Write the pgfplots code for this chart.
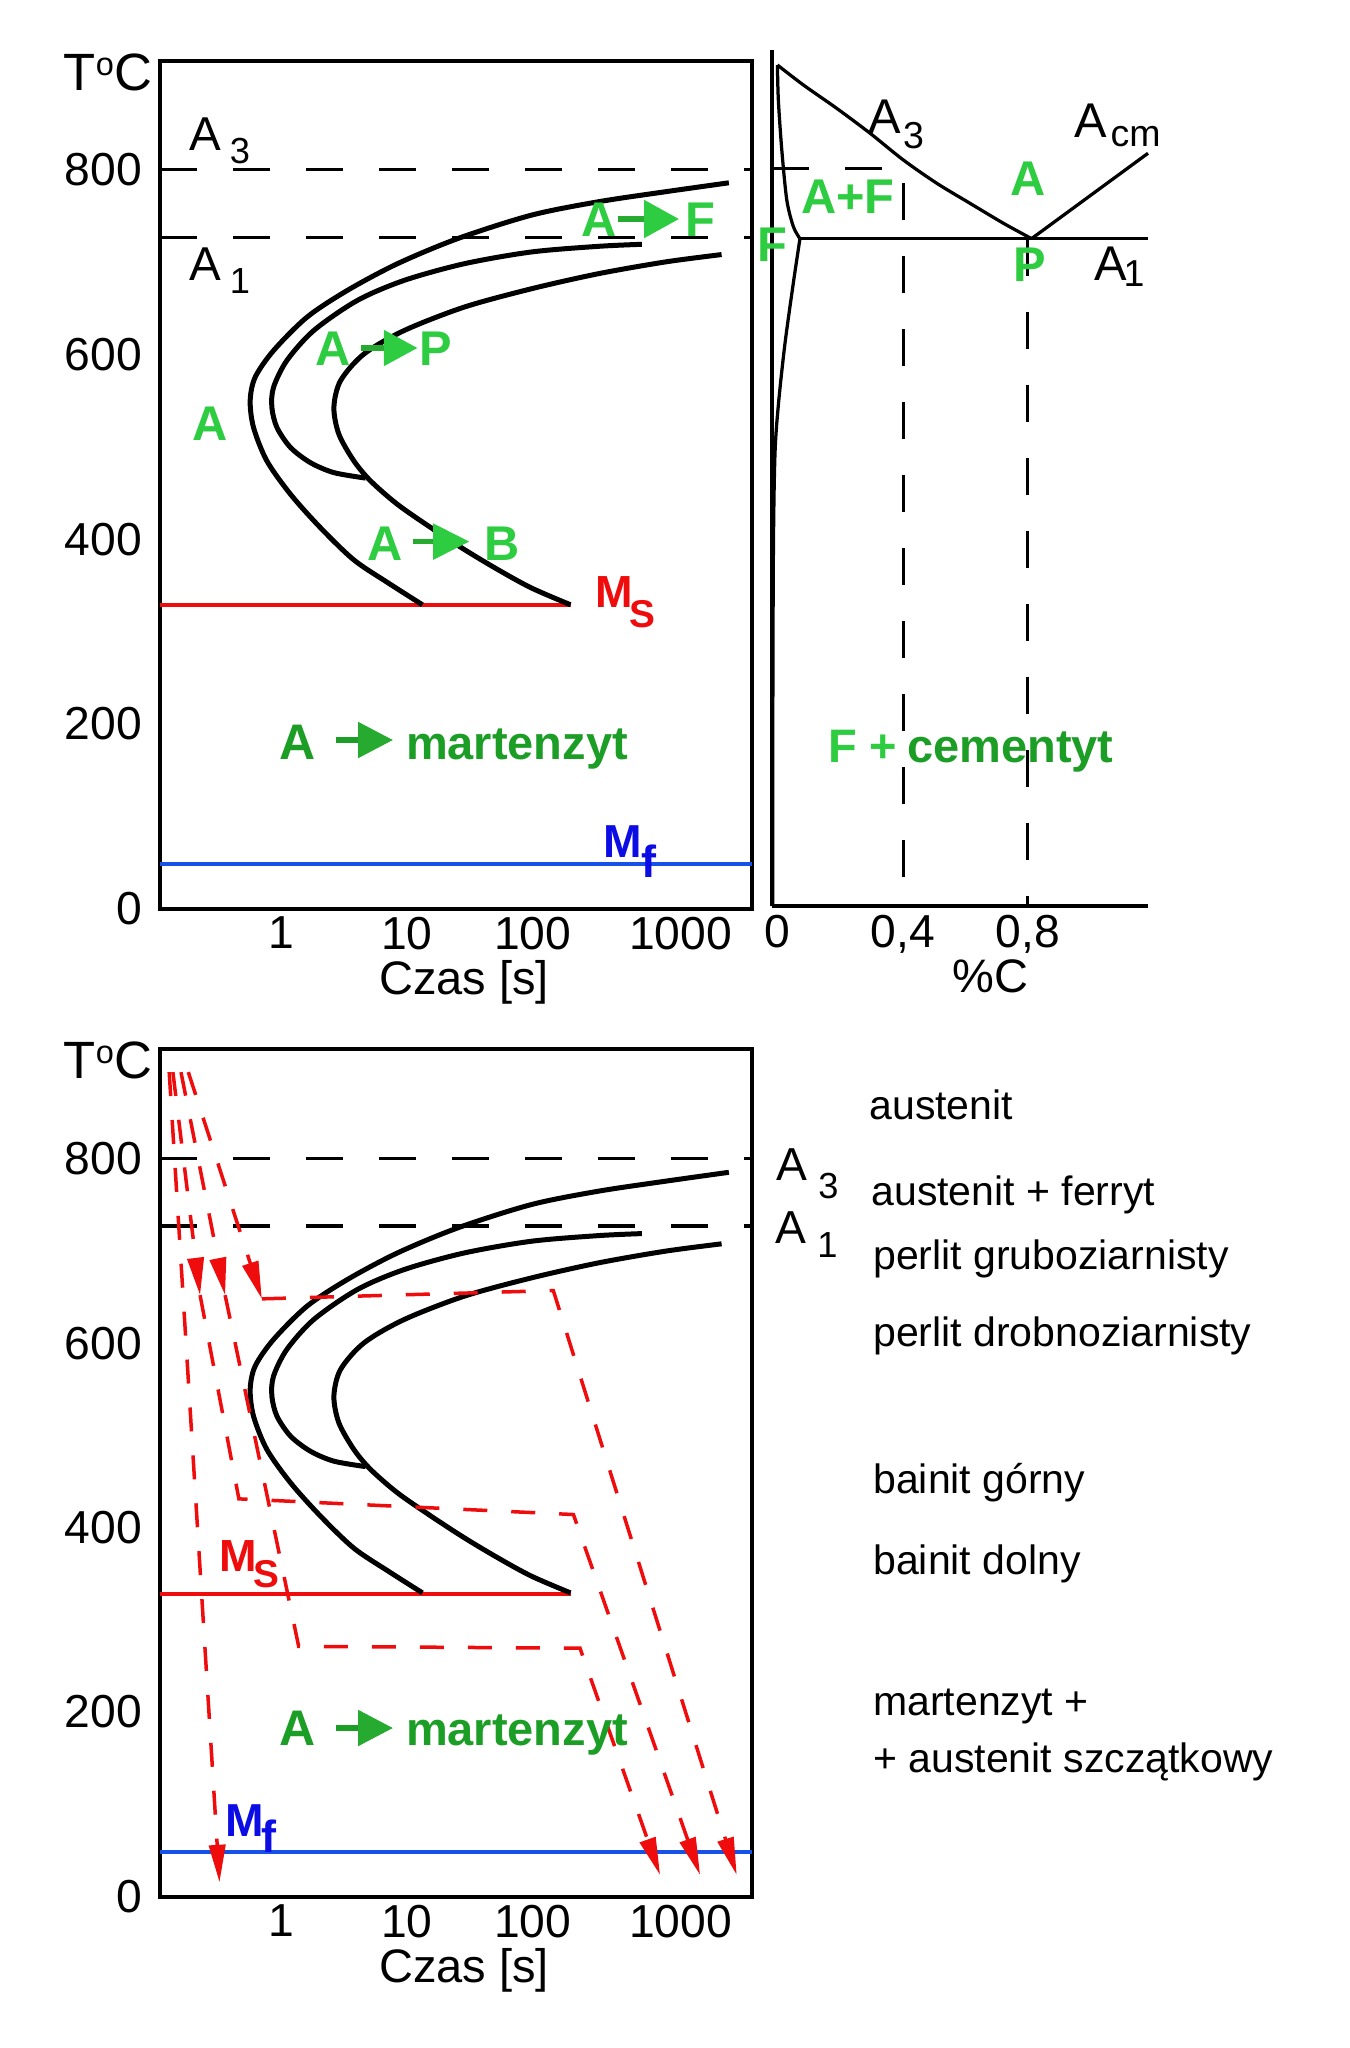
\documentclass[border=0pt]{standalone}
\usepackage{fontspec}
\setmainfont{Liberation Sans}
\usepackage{pgfplots}
\pgfplotsset{compat=1.18}
\usetikzlibrary{arrows.meta}
\newcommand\fs[1]{\fontsize{#1}{#1}\selectfont}
\definecolor{gbright}{RGB}{46,204,64}
\definecolor{gshaft}{RGB}{38,170,48}
\definecolor{gdark}{RGB}{28,158,38}
\definecolor{rred}{RGB}{238,12,12}
\definecolor{lblue}{RGB}{22,82,232}
\definecolor{mblue}{RGB}{12,12,228}

\pgfplotstableread{
t T
3631 785.3
1132 775.6
333 764.8
97.7 750.3
25.4 725.0
8.41 697.8
3.36 668.9
1.61 640.1
0.871 603.9
0.622 575.0
0.568 549.7
0.604 520.7
0.771 484.6
1.19 448.4
2.06 412.2
3.79 377.5
7.11 352.6
13.3 329
}\startcurve
\pgfplotstableread{
t T
738 718.8
333 716.6
97.7 710.5
28.6 697.8
9.53 679.8
4.04 658.1
1.82 625.6
1.11 593.0
0.871 564.1
0.845 542.4
0.927 520.7
1.19 499.0
1.71 482.7
2.63 471.9
4.7 466
}\midcurve
\pgfplotstableread{
t T
3177 707.7
1132 699.7
333 687.0
97.7 670.7
28.6 650.9
9.53 625.6
4.56 600.2
2.97 571.3
2.63 542.4
2.88 513.5
3.79 484.6
5.15 462.9
8.41 437.6
15.6 412.2
28.6 388.8
52.8 367.1
97.7 347.2
200 329
}\endcurve

\pgfplotsset{
  cc/.style={black, line width=2pt, smooth},
  thr/.style={black, line width=1.25pt, dash pattern=on 14.8pt off 14.4pt},
  rpath/.style={rred, line width=1.4pt, dash pattern=on 9.6pt off 9.6pt, -{Triangle[length=15pt,width=6.5pt]}},
  pd/.style={black, line width=1.3pt},
}

\begin{document}
\begin{tikzpicture}[x=0.4pt,y=-0.4pt]
\useasboundingbox (0,0) rectangle (1349,2048);

% ---------------- top-left: TTT diagram
\begin{axis}[at={(64pt,-363.6pt)}, anchor=south west, scale only axis,
    width=236.8pt, height=339.2pt,
    xmode=log, xmin=0.109, xmax=5546, ymin=0, ymax=917,
    xtick={1,10,100,1500}, xticklabels={1,10,100,1000},
    xminorticks=false, yminorticks=false,
    ytick={0,200,400,600,800},
    major tick length=0pt, tick style={draw=none},
    ticklabel style={font=\fs{18.5}, inner sep=0pt},
    yticklabel style={anchor=east, xshift=-7pt},
    xticklabel style={anchor=north, yshift=-3pt},
    /pgf/number format/assume math mode=true,
    axis line style={line width=1.3pt},
    clip=false,
    xlabel={Czas [s]},
    xlabel style={at={(axis description cs:0.5135,-0.087)}, anchor=center, inner sep=0pt, font=\fs{18.8}},
    ylabel={T\raisebox{6pt}{\fs{13}o}C},
    ylabel style={at={(axis description cs:-0.088,0.987)}, rotate=-90, anchor=center, inner sep=0pt, font=\fs{21}}]
\addplot[thr] coordinates {(0.109,800) (5546,800)};
\addplot[thr] coordinates {(0.109,726) (5546,726)};
\addplot[rred, line width=1.6pt] coordinates {(0.109,329) (200,329)};
\addplot[lblue, line width=1.6pt] coordinates {(0.109,48.6) (5546,48.6)};
\addplot[cc] table[x=t,y=T] {\startcurve};
\addplot[cc] table[x=t,y=T] {\midcurve};
\addplot[cc] table[x=t,y=T] {\endcurve};
\end{axis}

% ---------------- right: Fe-C corner
\begin{axis}[at={(308.8pt,-362.4pt)}, anchor=south west, scale only axis,
  width=150.4pt, height=342.4pt,
  xmin=-0.01725, xmax=1.184, ymin=4.3, ymax=928.7,
  axis x line=bottom, axis y line=left,
  axis line style={-, line width=1.3pt},
  xtick={0,0.4,0.8}, xticklabels={0,{0,4},{0,8}}, ytick=\empty,
  major tick length=0pt, tick style={draw=none},
  ticklabel style={font=\fs{18.5}, inner sep=0pt},
  xticklabel style={anchor=north, yshift=-3.6pt},
  clip=false,
  xlabel={\%C},
  xlabel style={at={(axis description cs:0.582,-0.082)}, anchor=center, inner sep=0pt, font=\fs{18.8}}]
\addplot[thr] coordinates {(-0.01725,801) (0.402,801) (0.402,4.3)};
\addplot[thr] coordinates {(0.8,725) (0.8,4.3)};
\addplot[pd, smooth] coordinates {(0,912.5) (0.083,890.9) (0.189,865.8) (0.296,838.8) (0.402,810.0) (0.509,784.8) (0.615,763.2) (0.722,741.6) (0.812,725)};
\addplot[pd] coordinates {(0.812,725) (1.184,817.2)};
\addplot[pd] coordinates {(0.072,725) (1.184,725)};
\addplot[pd, smooth] coordinates {(0,912.5) (0.003,874.7) (0.014,820.7) (0.030,766.7) (0.051,737.9) (0.072,725)};
\addplot[pd, smooth] coordinates {(0.072,725) (0.051,677.4) (0.024,611.3) (0.003,545.3) (-0.008,490.2) (-0.013,379.9) (-0.015,150) (-0.015,4.3)};
\end{axis}

% ---------------- bottom-left: cooling paths
\begin{axis}[at={(64pt,-758.8pt)}, anchor=south west, scale only axis,
    width=236.8pt, height=339.2pt,
    xmode=log, xmin=0.109, xmax=5546, ymin=-1, ymax=919,
    xtick={1,10,100,1500}, xticklabels={1,10,100,1000},
    xminorticks=false, yminorticks=false,
    ytick={0,200,400,600,800},
    major tick length=0pt, tick style={draw=none},
    ticklabel style={font=\fs{18.5}, inner sep=0pt},
    yticklabel style={anchor=east, xshift=-7pt},
    xticklabel style={anchor=north, yshift=-3pt},
    /pgf/number format/assume math mode=true,
    axis line style={line width=1.3pt},
    clip=false,
    xlabel={Czas [s]},
    xlabel style={at={(axis description cs:0.5135,-0.087)}, anchor=center, inner sep=0pt, font=\fs{18.8}},
    ylabel={T\raisebox{6pt}{\fs{13}o}C},
    ylabel style={at={(axis description cs:-0.088,0.987)}, rotate=-90, anchor=center, inner sep=0pt, font=\fs{21}}]
\addplot[thr] coordinates {(0.109,800) (5546,800)};
\addplot[thr] coordinates {(0.109,727) (5546,727)};
\addplot[rred, line width=1.6pt] coordinates {(0.109,328) (200,328)};
\addplot[lblue, line width=1.6pt] coordinates {(0.109,47.5) (5546,47.5)};
\addplot[cc] table[x=t,y=T] {\startcurve};
\addplot[cc] table[x=t,y=T] {\midcurve};
\addplot[cc] table[x=t,y=T] {\endcurve};
% martensite
\addplot[rpath] coordinates {(0.129,894) (0.324,15)};
% upper bainite
\addplot[rpath] coordinates {(0.138,894) (0.227,652)};
\addplot[rpath] coordinates {(0.227,652) (0.462,431) (211,414) (2143,23)};
% lower bainite
\addplot[rpath] coordinates {(0.160,894) (0.359,652)};
\addplot[rpath] coordinates {(0.359,652) (1.38,271) (238,269) (1030,23)};
% pearlite
\addplot[rpath] coordinates {(0.183,894) (0.703,648)};
\addplot[rpath] coordinates {(0.703,648) (146,657) (4190,23)};
\end{axis}

\begin{scope}[every node/.style={inner sep=0pt}]
% ---- top-left labels
\node[anchor=base, font=\fs{19}] at (205,150) {A};
\node[anchor=base, font=\fs{14.5}] at (240,163) {3};
\node[anchor=base, font=\fs{19}] at (205,280.6) {A};
\node[anchor=base, font=\fs{14.5}] at (240,293) {1};
\node[anchor=base, font=\bfseries\fs{19.5}, text=gbright] at (210,440) {A};
% A -> F
\node[anchor=base, font=\bfseries\fs{19.5}, text=gbright] at (599,236) {A};
\draw[gshaft, line width=2.2pt, -{Triangle[length=14pt,width=14.8pt,color=gbright]}] (618,219) -- (679,219);
\node[anchor=base, font=\bfseries\fs{19.5}, text=gbright] at (700,236) {F};
% A -> P
\node[anchor=base, font=\bfseries\fs{19.5}, text=gbright] at (332.6,365.9) {A};
\draw[gshaft, line width=2.2pt, -{Triangle[length=13.5pt,width=14pt,color=gbright]}] (360.6,348) -- (417.5,348);
\node[anchor=base, font=\bfseries\fs{19.5}, text=gbright] at (436,365.9) {P};
% A -> B
\node[anchor=base, font=\bfseries\fs{19.5}, text=gbright] at (385,560) {A};
\draw[gshaft, line width=2.2pt, -{Triangle[length=14.5pt,width=14pt,color=gbright]}] (412.5,541.6) -- (469.4,541.6);
\node[anchor=base, font=\bfseries\fs{19.5}, text=gbright] at (502,560) {B};
% Ms
\node[anchor=base west, font=\bfseries\fs{18}, text=rred] at (594.9,607) {M};
\node[anchor=base west, font=\bfseries\fs{15.5}, text=rred] at (629,627) {S};
% A -> martenzyt
\node[anchor=base, font=\bfseries\fs{20}, text=gdark] at (297.2,759) {A};
\draw[gdark, line width=2.2pt, -{Triangle[length=14pt,width=14pt,color=gshaft]}] (335.8,740) -- (393,740);
\node[anchor=base west, font=\bfseries\fs{18.8}, text=gdark] at (405.5,759) {martenzyt};
% Mf
\node[anchor=base west, font=\bfseries\fs{18.5}, text=mblue] at (603,857.8) {M};
\node[anchor=base west, font=\bfseries\fs{18}, text=mblue] at (640.5,877) {f};

% ---- phase diagram labels
\node[anchor=base, font=\fs{19.5}] at (885,133.5) {A};
\node[anchor=base, font=\fs{15}] at (913.5,148.3) {3};
\node[anchor=base, font=\fs{19.5}] at (1090.5,137) {A};
\node[anchor=base west, font=\fs{15}] at (1110,146) {cm};
\node[anchor=base, font=\bfseries\fs{19.5}, text=gbright] at (1028,195) {A};
\node[anchor=base, font=\bfseries\fs{19.5}, text=gbright] at (848,213) {A+F};
\node[anchor=base, font=\bfseries\fs{19.5}, text=gbright] at (772.5,261) {F};
\node[anchor=base, font=\bfseries\fs{19.5}, text=gbright] at (1030,281.7) {P};
\node[anchor=base, font=\fs{19.5}] at (1111,280) {A};
\node[anchor=base, font=\fs{15}] at (1134,286.7) {1};
\node[anchor=base west, font=\bfseries\fs{18.8}, text=gbright] at (827.7,762) {F +};
\node[anchor=base west, font=\bfseries\fs{18.8}, text=gdark] at (906.6,762) {cementyt};

% ---- bottom labels
\node[anchor=base west, font=\bfseries\fs{18}, text=rred] at (219,1571) {M};
\node[anchor=base west, font=\bfseries\fs{15.5}, text=rred] at (253,1587) {S};
\node[anchor=base west, font=\bfseries\fs{18.5}, text=mblue] at (225,1836.4) {M};
\node[anchor=base west, font=\bfseries\fs{18}, text=mblue] at (261,1852.8) {f};
\node[anchor=base, font=\bfseries\fs{20}, text=gdark] at (297.2,1745) {A};
\draw[gdark, line width=2.2pt, -{Triangle[length=14pt,width=14pt,color=gshaft]}] (335.8,1728) -- (393,1728);
\node[anchor=base west, font=\bfseries\fs{18.8}, text=gdark] at (405.5,1745) {martenzyt};
\node[anchor=base, font=\fs{18.5}] at (792,1180.7) {A};
\node[anchor=base, font=\fs{14.5}] at (828.5,1198.4) {3};
\node[anchor=base, font=\fs{18.5}] at (791,1243) {A};
\node[anchor=base, font=\fs{14.5}] at (827.5,1257) {1};
\begin{scope}[every node/.append style={anchor=base west, font=\fs{16.4}}]
\node at (869,1119.7) {austenit};
\node at (871,1205) {austenit + ferryt};
\node at (872.8,1269) {perlit gruboziarnisty};
\node at (872.8,1346.6) {perlit drobnoziarnisty};
\node at (872.8,1493.4) {bainit górny};
\node at (872.8,1574) {bainit dolny};
\node at (872.8,1715) {martenzyt +};
\node at (872.8,1772) {+ austenit szczątkowy};
\end{scope}
\end{scope}
\end{tikzpicture}
\end{document}
